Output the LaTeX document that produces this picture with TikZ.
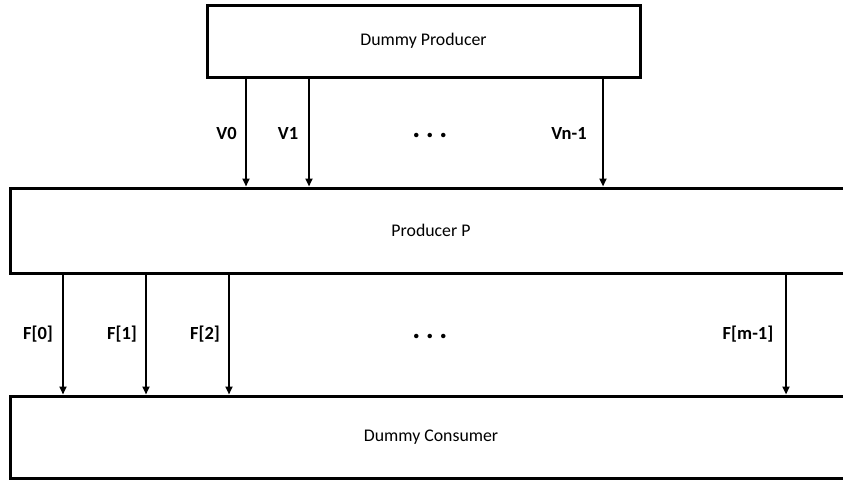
\documentclass[tikz,border=0pt]{standalone}
\usepackage{fontspec}
\setmainfont{Carlito}
\usetikzlibrary{arrows.meta}
\begin{document}
\begin{tikzpicture}[x=1pt,y=-1pt,
  block/.style={draw=black, line width=3pt, fill=white, rectangle, inner sep=0pt,
    font=\fontsize{17.8}{20}\selectfont},
  flow/.style={line width=2pt, -{Triangle[length=8pt,width=7pt]}},
  lbl/.style={font=\bfseries\fontsize{18.5}{20}\selectfont, inner sep=0pt},
  dots/.style={font=\bfseries\fontsize{30}{32}\selectfont, inner sep=0pt}]
  \useasboundingbox (0,0) rectangle (843,480);

  % blocks
  \node[block, minimum width=433pt, minimum height=72pt] (dp) at (423.5,41) {Dummy Producer};
  \node[block, minimum width=842pt, minimum height=85pt] (pp) at (431,230.5) {Producer P};
  \node[block, minimum width=842pt, minimum height=82pt] (dc) at (431,437) {Dummy Consumer};

  % channel positions
  \coordinate (v0) at (246,0);
  \coordinate (v1) at (309,0);
  \coordinate (vn) at (603,0);
  \coordinate (f0) at (63,0);
  \coordinate (f1) at (146,0);
  \coordinate (f2) at (229,0);
  \coordinate (fm) at (786,0);

  % value flows into the producer
  \draw[flow] (dp.south -| v0) -- (pp.north -| v0);
  \draw[flow] (dp.south -| v1) -- (pp.north -| v1);
  \draw[flow] (dp.south -| vn) -- (pp.north -| vn);

  % fields flowing into the consumer
  \draw[flow] (pp.south -| f0) -- (dc.north -| f0);
  \draw[flow] (pp.south -| f1) -- (dc.north -| f1);
  \draw[flow] (pp.south -| f2) -- (dc.north -| f2);
  \draw[flow] (pp.south -| fm) -- (dc.north -| fm);

  % labels
  \node[lbl] (lv0) at (226.5,133) {V0};
  \node[lbl] (lv1) at (288,133) {V1};
  \node[lbl] (lvn) at (569,133) {Vn-1};
  \node[dots] (dtop) at (430,135) {.\kern5.5pt.\kern5.5pt.};

  \node[lbl] (lf0) at (38,334) {F[0]};
  \node[lbl] (lf1) at (122,334) {F[1]};
  \node[lbl] (lf2) at (205,334) {F[2]};
  \node[lbl] (lfm) at (748,334) {F[m-1]};
  \node[dots] (dbot) at (430,336) {.\kern5.5pt.\kern5.5pt.};
\end{tikzpicture}
\end{document}
